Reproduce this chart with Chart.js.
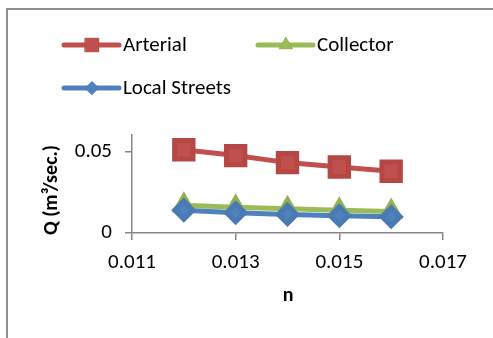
<!DOCTYPE html>
<html>
<head>
<meta charset="utf-8">
<script src="https://cdn.jsdelivr.net/npm/chart.js@4.4.0/dist/chart.umd.min.js"></script>
<style>
html, body { margin: 0; padding: 0; background: #fff; overflow: hidden; }
canvas { display: block; }
</style>
</head>
<body>
<canvas id="qChart" width="493" height="338"></canvas>
<script>
// Manning's n vs discharge Q
const nValues = [0.012, 0.013, 0.014, 0.015, 0.016];
const arterialQ = [0.051, 0.0474, 0.0431, 0.0404, 0.0378];
const collectorQ = [0.017, 0.0158, 0.0148, 0.014, 0.0132];
const localQ = [0.014, 0.0124, 0.0114, 0.0106, 0.0099];
const xTicks = [0.011, 0.013, 0.015, 0.017];
const yTicks = [0, 0.05];
const seriesNames = ['Arterial', 'Collector', 'Local Streets'];

const axisGray = '#868686';
const fontFam = 'Carlito, Lato, sans-serif';

function pts(ys) {
    return nValues.map((x, i) => ({x: x, y: ys[i]}));
}

// legend drawn by hand: line + marker + text, Excel style
const legendSpots = [[64, 45], [258, 45], [64, 88]];
const legendMarker = [9.5, 7.5, 6.5];
const excelLegend = {
    id: 'excelLegend',
    beforeDraw(chart) {
        const ctx = chart.ctx;
        ctx.save();
        ctx.strokeStyle = '#8f8f8f';
        ctx.lineWidth = 2;
        ctx.beginPath();
        ctx.moveTo(7, 338);
        ctx.lineTo(7, 9);
        ctx.lineTo(493, 9);
        ctx.stroke();
        ctx.restore();
    },
    afterDraw(chart) {
        const ctx = chart.ctx;
        ctx.save();
        chart.data.datasets.forEach((ds, i) => {
            const [x, y] = legendSpots[i];
            ctx.strokeStyle = ds.borderColor;
            ctx.lineWidth = 5;
            ctx.lineCap = 'round';
            ctx.beginPath();
            ctx.moveTo(x, y);
            ctx.lineTo(x + 55, y);
            ctx.stroke();
            ctx.fillStyle = ds.pointBackgroundColor;
            ctx.strokeStyle = ds.pointBorderColor;
            ctx.lineWidth = 1;
            Chart.helpers.drawPoint(ctx, {pointStyle: ds.pointStyle, radius: legendMarker[i], rotation: 0, borderWidth: 1}, x + 28, y);
            ctx.fillStyle = '#000';
            ctx.font = '21px ' + fontFam;
            ctx.textBaseline = 'middle';
            ctx.textAlign = 'left';
            ctx.fillText(ds.label, x + 59, y + 1);
        });
        // axis titles
        ctx.font = 'bold 20px ' + fontFam;
        ctx.fillStyle = '#000';
        ctx.textAlign = 'center';
        ctx.textBaseline = 'middle';
        ctx.fillText('n', 288, 296);
        ctx.translate(52, 190);
        ctx.rotate(-Math.PI / 2);
        ctx.fillText('Q (m\u00b3/sec.)', 0, 0);
        ctx.restore();
    }
};

let ctxEl = document.getElementById('qChart');
let qChart = new Chart(ctxEl, {
    type: 'line',
    data: {
        datasets: [
            {
                label: seriesNames[0],
                data: pts(arterialQ),
                borderColor: '#C0504D',
                backgroundColor: '#C0504D',
                pointBackgroundColor: '#C0504D',
                pointBorderColor: '#B54844',
                pointStyle: 'rect',
                pointRadius: 13,
                borderWidth: 5,
                order: 3,
                tension: 0
            },
            {
                label: seriesNames[1],
                data: pts(collectorQ),
                borderColor: '#9BBB59',
                backgroundColor: '#9BBB59',
                pointBackgroundColor: '#9BBB59',
                pointBorderColor: '#93B152',
                pointStyle: 'triangle',
                pointRadius: 9,
                borderWidth: 5,
                order: 2,
                tension: 0
            },
            {
                label: seriesNames[2],
                data: pts(localQ),
                borderColor: '#4F81BD',
                backgroundColor: '#4F81BD',
                pointBackgroundColor: '#4F81BD',
                pointBorderColor: '#4A7AB3',
                pointStyle: 'rectRot',
                pointRadius: 9,
                borderWidth: 5,
                order: 1,
                tension: 0
            }
        ]
    },
    options: {
        responsive: false,
        animation: false,
        layout: {padding: {left: 0, top: 135, right: 50, bottom: 0}},
        plugins: {
            legend: {display: false},
            tooltip: {enabled: false}
        },
        scales: {
            x: {
                type: 'linear',
                min: 0.011,
                max: 0.017,
                afterBuildTicks: (s) => { s.ticks = xTicks.map(v => ({value: v})); },
                afterFit: (s) => { s.height = 105; },
                border: {color: axisGray, width: 1.5},
                grid: {display: true, drawOnChartArea: false, color: axisGray, tickLength: 7, lineWidth: 1.5},
                ticks: {
                    color: '#000',
                    font: {family: fontFam, size: 21},
                    padding: 10,
                    maxRotation: 0,
                    callback: (v) => String(v)
                }
            },
            y: {
                min: 0,
                max: 0.06,
                afterBuildTicks: (s) => { s.ticks = yTicks.map(v => ({value: v})); },
                afterFit: (s) => { s.width = 132; },
                border: {color: axisGray, width: 1.5},
                grid: {display: true, drawOnChartArea: false, color: axisGray, tickLength: 7, lineWidth: 1.5},
                ticks: {
                    color: '#000',
                    font: {family: fontFam, size: 21},
                    padding: 13,
                    callback: (v) => String(v)
                }
            }
        }
    },
    plugins: [excelLegend]
});
</script>
</body>
</html>
